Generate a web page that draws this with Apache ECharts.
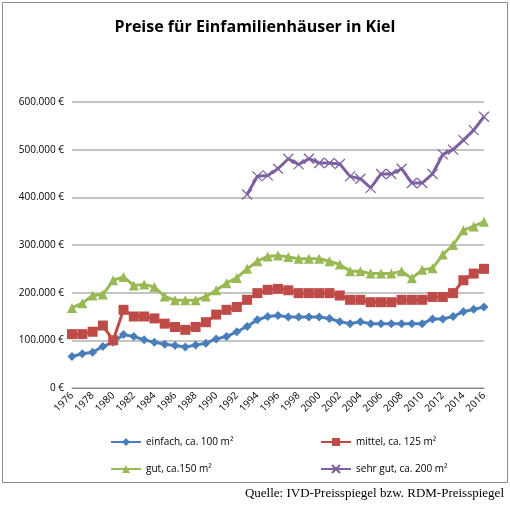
<!DOCTYPE html>
<html><head><meta charset="utf-8">
<script src="https://cdn.jsdelivr.net/npm/echarts@6/dist/echarts.min.js"></script>
<style>html,body{margin:0;padding:0;background:#fff}#c{width:510px;height:508px}</style>
</head><body><div id="c"></div>
<script>
var years = [];
for (var y = 1976; y <= 2016; y++) years.push(String(y));

var einfach = [66,72,75,87,96,112,108,101,96,92,89,86,90,94,103,108,118,129,143,150,152,149,149,149,149,146,139,135,139,135,135,135,135,135,135,145,145,150,160,165,170];
var mittel = [113,113,118,131,100,164,150,150,146,135,128,122,128,138,154,164,170,185,199,206,208,205,199,199,199,199,194,185,185,180,180,180,185,185,185,191,191,199,226,240,250];
var gut = [168,178,194,196,226,233,215,217,212,192,184,184,184,192,205,220,231,250,266,276,278,275,271,271,271,266,259,245,245,240,240,240,245,230,248,251,280,300,331,339,349];
var sehrGutFrom1993 = [406,444,446,460,481,469,481,472,472,470,444,439,420,449,449,460,430,430,449,490,500,520,541,569];

var names = ['einfach, ca. 100 m²', 'mittel, ca. 125 m²', 'gut, ca.150 m²', 'sehr gut, ca. 200 m²'];
var colors = ['#4a7ebb', '#be4b48', '#98b954', '#7d60a0'];

function k(arr) { return arr.map(function (v) { return v * 1000; }); }
var sehrGut = years.map(function (yr, i) { return i < 17 ? null : sehrGutFrom1993[i - 17] * 1000; });

var xPath = 'path://M0,0L10,10M10,0L0,10';
var symbols = ['diamond', 'rect', 'triangle', xPath];
var sizes = [9, 10, 10, 10];

var chart = echarts.init(document.getElementById('c'));
var font = 'Open Sans';

function fmt(v) {
  var s = String(v).replace(/\B(?=(\d{3})+(?!\d))/g, '.');
  return s + ' €';
}

var series = [k(einfach), k(mittel), k(gut), sehrGut].map(function (d, i) {
  return {
    name: names[i], type: 'line', data: d,
    symbol: symbols[i], symbolSize: sizes[i], showAllSymbol: true,
    lineStyle: { width: 3, color: colors[i] },
    itemStyle: i === 3 ? { color: colors[i], borderColor: colors[i], borderWidth: 1.2 } : { color: colors[i] }
  };
});

var legendPos = [[105, 432], [315, 432], [105, 459], [315, 459]];
var legends = names.map(function (n, i) {
  return {
    data: [n],
    left: legendPos[i][0], top: legendPos[i][1],
    itemWidth: 30, itemHeight: 10,
    textStyle: { fontFamily: font, fontSize: 10, color: '#000' }
  };
});

chart.setOption({
  animation: false,
  title: {
    text: 'Preise für Einfamilienhäuser in Kiel', left: 'center', top: 14,
    textStyle: { fontFamily: font, fontSize: 16, fontWeight: 'bold', color: '#000' }
  },
  graphic: [
    { type: 'rect', shape: { x: 2.5, y: 2.5, width: 505, height: 480 }, style: { fill: 'none', stroke: '#8c8c8c', lineWidth: 1 } },
    { type: 'text', right: 6, top: 487, style: { text: 'Quelle: IVD-Preisspiegel bzw. RDM-Preisspiegel', font: '13px "Liberation Serif"', fill: '#000' } }
  ],
  legend: legends,
  grid: { left: 72, right: 26, top: 102, bottom: 120 },
  xAxis: {
    type: 'category', data: years, boundaryGap: false,
    axisLine: { lineStyle: { color: '#888' } },
    axisTick: { show: false },
    axisLabel: { interval: 1, rotate: 45, fontFamily: font, fontSize: 10, color: '#000', margin: 6 }
  },
  yAxis: {
    type: 'value', min: 0, max: 600000, interval: 100000,
    axisLabel: { formatter: fmt, fontFamily: font, fontSize: 10, color: '#000' },
    splitLine: { lineStyle: { color: '#b0b0b0', width: 1.5 } },
    axisLine: { show: false }
  },
  series: series
});
window.onresize = chart.resize;
</script>
</body></html>
